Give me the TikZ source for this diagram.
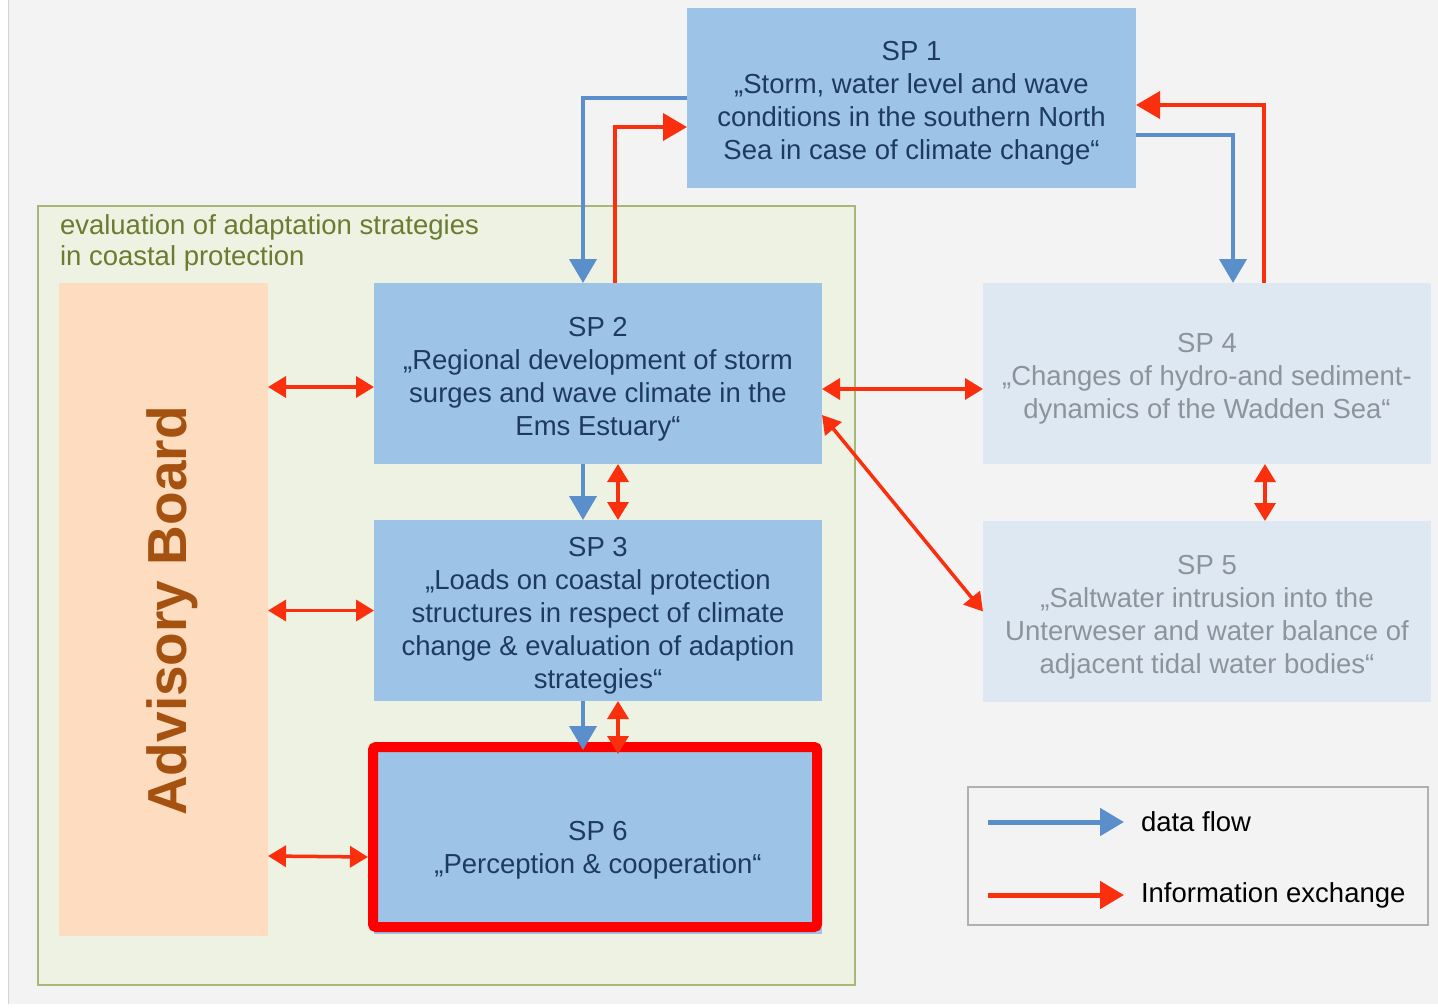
\documentclass[tikz,border=0pt]{standalone}
\usepackage{fontspec}
\setmainfont{Liberation Sans}
\usepackage{tikz}
\usetikzlibrary{arrows.meta,positioning}

\definecolor{bggray}{HTML}{F3F3F3}
\definecolor{edgegray}{HTML}{D4D4D4}
\definecolor{framefill}{HTML}{EEF2E3}
\definecolor{framedraw}{HTML}{A7B77A}
\definecolor{frametext}{HTML}{6B7B2F}
\definecolor{advfill}{HTML}{FDDCBF}
\definecolor{advtext}{HTML}{A55210}
\definecolor{spblue}{HTML}{9DC3E6}
\definecolor{sptext}{HTML}{1F3A5F}
\definecolor{spfade}{HTML}{DEE8F3}
\definecolor{fadetext}{HTML}{8C939B}
\definecolor{flowblue}{HTML}{5B8FCB}
\definecolor{infored}{HTML}{FA2F0E}
\definecolor{markred}{HTML}{FF0000}
\definecolor{legdraw}{HTML}{B0B0B0}

\newcommand{\spfont}{\fontsize{27.5}{33}\selectfont}
\newcommand{\spnum}[2][30pt]{\rule{0pt}{#1}SP #2}

\begin{document}
\begin{tikzpicture}[
  x = 1pt, y = -1pt,
  node distance = 56pt and 161pt,
  sp/.style = {rectangle, fill=spblue, text=sptext, align=center,
               minimum width=448pt, minimum height=181pt,
               inner sep=0pt, outer sep=0pt, font=\spfont},
  spfaded/.style = {sp, fill=spfade, text=fadetext},
  data/.style = {draw=flowblue, line width=4pt,
                 -{Triangle[length=24pt,width=27pt]}},
  info/.style = {draw=infored, line width=4pt,
                 -{Triangle[length=24pt,width=27pt]}},
  both/.style = {draw=infored, line width=3.5pt,
                 {Triangle[length=18pt,width=21pt]}-{Triangle[length=18pt,width=21pt]}},
  plain/.style = {inner sep=0pt, outer sep=0pt, font=\spfont}
]

\useasboundingbox (0,0) rectangle (1438,1007);
\fill[white] (0,0) rectangle (1438,1007);
\fill[bggray] (8,0) rectangle (1438,1004);
\draw[edgegray, line width=1pt] (8,0) -- (8,1004);

\node[rectangle, draw=framedraw, fill=framefill, line width=2pt,
      minimum width=817pt, minimum height=779pt] (eval) at (446.5,595.5) {};
\node[plain, text=frametext, align=left, anchor=north west, font=\fontsize{27.5}{31}\selectfont]
      (evaltitle) at (60,215) {evaluation of adaptation strategies\\in coastal protection};

\node[rectangle, fill=advfill, minimum width=209pt, minimum height=653pt,
      outer sep=0pt] (adv) at (163.5,609.5) {};
\node[inner sep=0pt, rotate=90, anchor=base, text=advtext,
      font=\fontsize{55}{60}\bfseries] (advtitle) at (186,611) {Advisory Board};

\node[sp, minimum width=449pt, minimum height=180pt] (sp1) at (911.5,98)
  {\spnum{1}\\„Storm, water level and wave\\conditions in the southern North\\Sea in case of climate change“};
\node[sp] (sp2) at (598,373.5)
  {\spnum{2}\\„Regional development of storm\\surges and wave climate in the\\Ems Estuary“};
\node[sp, below=of sp2] (sp3)
  {\spnum{3}\\„Loads on coastal protection\\structures in respect of climate\\change \& evaluation of adaption\\strategies“};
\node[sp, minimum height=184pt, below=49pt of sp3] (sp6)
  {\spnum[36pt]{6}\\„Perception \& cooperation“};
\node[spfaded, right=of sp2] (sp4)
  {\spnum{4}\\„Changes of hydro-and sediment-\\dynamics of the Wadden Sea“};
\node[spfaded, below=57pt of sp4] (sp5)
  {\spnum{5}\\„Saltwater intrusion into the\\Unterweser and water balance of\\adjacent tidal water bodies“};

\draw[markred, line width=10pt, rounded corners=3pt]
  ([xshift=-1pt,yshift=3pt]sp6.north west) rectangle ([xshift=-5pt,yshift=7pt]sp6.south east);

\draw[data] (sp1.west) -| ([xshift=-15pt]sp2.north);
\draw[info] ([xshift=17pt]sp2.north) |- ([yshift=-29pt]sp1.west);
\draw[data] ([yshift=-37pt]sp1.east) -| ([xshift=26pt]sp4.north);
\draw[info] ([xshift=57pt]sp4.north) |- ([yshift=-7pt]sp1.east);

\draw[data] ([xshift=-15pt]sp2.south) -- ([xshift=-15pt]sp3.north);
\draw[both] ([xshift=20pt]sp2.south) -- ([xshift=20pt]sp3.north);
\draw[data] ([xshift=-15pt]sp3.south) -- ([xshift=-15pt]sp6.north);
\draw[both] ([xshift=20pt]sp3.south) -- ([xshift=20pt,yshift=-4pt]sp6.north);

\draw[both] (adv.east |- 0,387) -- ([yshift=-13.5pt]sp2.west);
\draw[both] (adv.east |- sp3.west) -- (sp3.west);
\draw[both] (adv.east |- 0,856) -- ([xshift=-6pt,yshift=-15pt]sp6.west);

\draw[both] ([yshift=-15.5pt]sp2.east) -- ([yshift=-15.5pt]sp2.east -| sp4.west);
\draw[both] ([yshift=-41.5pt]sp2.east) -- (sp5.west);
\draw[both] ([xshift=58pt]sp4.south) -- ([xshift=58pt]sp5.north);

\node[rectangle, draw=legdraw, fill=bggray, line width=1.5pt,
      minimum width=460pt, minimum height=138pt] (legend) at (1198,856) {};
\coordinate (flowstart) at (988,822);
\coordinate (flowend)   at (1124,822);
\coordinate (infostart) at (988,895);
\coordinate (infoend)   at (1124,895);
\draw[data, line width=5pt] (flowstart) -- (flowend);
\draw[info, line width=5pt] (infostart) -- (infoend);
\node[plain, anchor=west] (flowlabel) at (1141,822) {data flow};
\node[plain, anchor=west] (infolabel) at (1141,895) {Information exchange};
\end{tikzpicture}
\end{document}
